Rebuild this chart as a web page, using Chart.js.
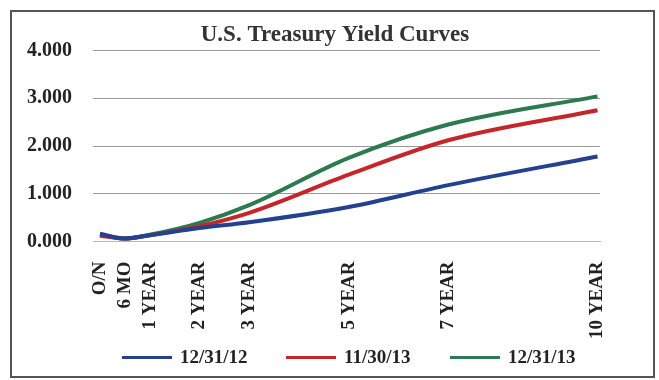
<!DOCTYPE html>
<html>
<head>
<meta charset="utf-8">
<script src="https://cdn.jsdelivr.net/npm/chart.js@4"></script>
<style>
  html, body { margin: 0; padding: 0; background: #fff; }
  #wrap { position: relative; width: 659px; height: 380px; }
  #legend {
    position: absolute; left: 122px; top: 346px;
    display: flex; margin: 0; padding: 0; list-style: none;
    font: bold 19px 'Liberation Serif', 'DejaVu Serif', serif; color: #222;
  }
  #legend li { display: flex; align-items: center; width: 164px; }
  #legend span { display: inline-block; width: 50px; height: 3px; margin-right: 8px; }
</style>
</head>
<body>
<div id="wrap">
  <canvas id="yield-chart"></canvas>
  <ul id="legend"></ul>
</div>
<script>
const maturities = [0, 0.5, 1, 2, 3, 5, 7, 10];
const tickLabels = ['O/N', '6 MO', '1 YEAR', '2 YEAR', '3 YEAR', '5 YEAR', '7 YEAR', '10 YEAR'];
const yieldTicks = [0, 1, 2, 3, 4];
const seriesNames = ['12/31/12', '11/30/13', '12/31/13'];
const yields2012 = [0.16, 0.06, 0.13, 0.28, 0.40, 0.72, 1.18, 1.78];
const yieldsNov2013 = [0.12, 0.06, 0.13, 0.32, 0.60, 1.40, 2.12, 2.75];
const yieldsDec2013 = [0.14, 0.06, 0.14, 0.39, 0.76, 1.75, 2.45, 3.04];
const lineColors = ['#24418f', '#c4262b', '#2c7a4e'];

const serif = "'Liberation Serif', 'DejaVu Serif', serif";
const toPoints = ys => ys.map((y, i) => ({ x: maturities[i], y: y }));

// outer frame round the whole chart
const framePlugin = {
    id: 'frame',
    beforeDraw(chart) {
        const ctx = chart.ctx;
        ctx.save();
        ctx.strokeStyle = '#555';
        ctx.lineWidth = 2;
        ctx.strokeRect(11, 11, 643, 366);
        ctx.restore();
    }
};

const ctx = document.getElementById('yield-chart').getContext('2d');
const chart = new Chart(ctx, {
    type: 'line',
    data: {
        datasets: [yields2012, yieldsNov2013, yieldsDec2013].map((ys, i) => ({
            label: seriesNames[i],
            data: toPoints(ys),
            borderColor: lineColors[i],
            backgroundColor: lineColors[i],
            borderWidth: 4,
            pointRadius: 0,
            cubicInterpolationMode: 'monotone'
        }))
    },
    options: {
        responsive: true,
        maintainAspectRatio: false,
        animation: false,
        layout: {
            padding: { left: 20, right: 9, top: 21, bottom: 21 }
        },
        plugins: {
            title: {
                display: true,
                text: 'U.S. Treasury Yield Curves',
                color: '#333',
                padding: { top: 0, bottom: 2 },
                font: { family: serif, size: 23, weight: 'bold' }
            },
            legend: { display: false },
            tooltip: { enabled: false }
        },
        scales: {
            x: {
                type: 'linear',
                min: -0.14,
                max: 10.05,
                afterBuildTicks: axis => {
                    axis.ticks = maturities.map(v => ({ value: v }));
                },
                grid: { display: false, drawTicks: false },
                border: { display: true, color: '#b8b8b8', dash: [2, 6], width: 1 },
                ticks: {
                    autoSkip: false,
                    minRotation: 90,
                    maxRotation: 90,
                    padding: 20,
                    color: '#222',
                    font: { family: serif, size: 19, weight: 'bold' },
                    callback: v => tickLabels[maturities.indexOf(v)]
                }
            },
            y: {
                min: 0,
                max: 4,
                afterBuildTicks: axis => {
                    axis.ticks = yieldTicks.map(v => ({ value: v }));
                },
                afterFit: axis => { axis.width = 73; },
                grid: {
                    drawTicks: false,
                    color: c => c.tick && c.tick.value === 0 ? 'rgba(0,0,0,0)' : '#9a9a9a'
                },
                border: { display: false },
                ticks: {
                    autoSkip: false,
                    padding: 21,
                    color: '#222',
                    font: { family: serif, size: 20, weight: 'bold' },
                    callback: v => Number(v).toFixed(3)
                }
            },
            // empty right-hand strip, keeps the plot narrower than the title
            spacer: {
                position: 'right',
                grid: { display: false, drawTicks: false },
                border: { display: false },
                ticks: { display: false },
                afterFit: axis => { axis.width = 50; }
            }
        }
    },
    plugins: [framePlugin]
});

// html legend under the chart
const legendEl = document.getElementById('legend');
chart.data.datasets.forEach(ds => {
    const li = document.createElement('li');
    const swatch = document.createElement('span');
    swatch.style.background = ds.borderColor;
    li.appendChild(swatch);
    li.appendChild(document.createTextNode(ds.label));
    legendEl.appendChild(li);
});
</script>
</body>
</html>
